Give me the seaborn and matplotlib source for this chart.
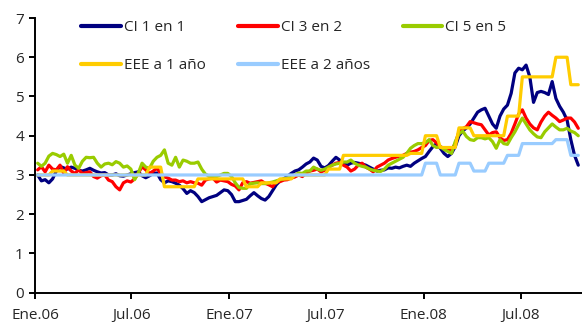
import numpy as np
import pandas as pd
import matplotlib
matplotlib.use("Agg")
import matplotlib.pyplot as plt
import matplotlib.dates as mdates
from matplotlib.lines import Line2D
import seaborn as sns

# Weekly observations, Jan 2006 - Oct 2008
fechas = pd.date_range("2006-01-06", periods=146, freq="7D")

ci_1_en_1 = [
    3.00, 2.85, 2.88, 2.80, 2.90, 3.10, 3.22, 3.18, 3.15, 3.20,
    3.17, 3.12, 3.10, 3.13, 3.17, 3.12, 3.08, 3.05, 3.06, 3.00,
    3.00, 3.03, 2.98, 2.97, 3.00, 3.03, 3.06, 3.08, 2.98, 2.93,
    2.98, 3.04, 3.05, 2.88, 2.80, 2.85, 2.83, 2.79, 2.74, 2.65,
    2.53, 2.60, 2.55, 2.45, 2.32, 2.37, 2.42, 2.45, 2.48, 2.55,
    2.62, 2.60, 2.50, 2.32, 2.32, 2.35, 2.38, 2.47, 2.55, 2.47,
    2.40, 2.36, 2.45, 2.60, 2.75, 2.85, 2.90, 2.97, 3.04, 3.10,
    3.13, 3.20, 3.28, 3.33, 3.43, 3.38, 3.22, 3.18, 3.24, 3.35,
    3.45, 3.38, 3.30, 3.25, 3.30, 3.32, 3.30, 3.28, 3.25, 3.20,
    3.15, 3.10, 3.12, 3.13, 3.18, 3.17, 3.20, 3.18, 3.22, 3.25,
    3.22, 3.30, 3.36, 3.42, 3.47, 3.60, 3.72, 3.80, 3.68, 3.55,
    3.47, 3.55, 3.72, 4.00, 4.12, 4.20, 4.30, 4.45, 4.60, 4.66,
    4.70, 4.50, 4.30, 4.19, 4.50, 4.68, 4.78, 5.08, 5.60, 5.72,
    5.68, 5.80, 5.50, 4.85, 5.10, 5.13, 5.10, 5.05, 5.38, 4.95,
    4.75, 4.60, 4.40, 3.90, 3.50, 3.25,
]

ci_3_en_2 = [
    3.13, 3.21, 3.08, 3.25, 3.15, 3.13, 3.25, 3.04, 3.21, 3.10,
    3.04, 3.13, 3.04, 3.06, 3.08, 2.96, 2.92, 2.98, 3.00, 2.87,
    2.83, 2.70, 2.62, 2.80, 2.85, 2.82, 2.90, 3.05, 3.21, 3.13,
    3.04, 3.10, 3.17, 3.04, 2.95, 2.92, 2.87, 2.87, 2.83, 2.85,
    2.80, 2.83, 2.80, 2.79, 2.74, 2.87, 2.90, 2.92, 2.82, 2.87,
    2.85, 2.83, 2.76, 2.72, 2.62, 2.80, 2.83, 2.79, 2.81, 2.83,
    2.85, 2.79, 2.75, 2.70, 2.83, 2.83, 2.87, 2.88, 2.92, 2.95,
    3.00, 2.96, 3.05, 3.10, 3.12, 3.15, 3.08, 3.12, 3.20, 3.25,
    3.30, 3.32, 3.25, 3.20, 3.10, 3.15, 3.25, 3.30, 3.20, 3.15,
    3.08, 3.20, 3.25, 3.30, 3.38, 3.42, 3.45, 3.48, 3.50, 3.55,
    3.58, 3.60, 3.64, 3.70, 3.75, 3.88, 3.90, 3.82, 3.72, 3.68,
    3.66, 3.64, 3.80, 4.10, 4.18, 4.23, 4.36, 4.33, 4.30, 4.28,
    4.15, 4.02, 4.08, 4.10, 3.95, 3.88, 3.90, 4.06, 4.30, 4.55,
    4.66, 4.45, 4.30, 4.20, 4.15, 4.35, 4.50, 4.60, 4.52, 4.45,
    4.36, 4.40, 4.45, 4.45, 4.35, 4.19,
]

ci_5_en_5 = [
    3.30, 3.22, 3.30, 3.48, 3.55, 3.52, 3.47, 3.53, 3.30, 3.50,
    3.25, 3.17, 3.35, 3.45, 3.44, 3.45, 3.30, 3.20, 3.28, 3.30,
    3.26, 3.34, 3.30, 3.20, 3.23, 3.15, 2.88, 3.05, 3.30, 3.20,
    3.17, 3.35, 3.45, 3.50, 3.64, 3.30, 3.25, 3.45, 3.20, 3.38,
    3.35, 3.30, 3.30, 3.33, 3.15, 3.02, 2.97, 2.97, 2.96, 3.00,
    3.04, 3.04, 2.96, 2.80, 2.68, 2.66, 2.66, 2.78, 2.79, 2.80,
    2.78, 2.78, 2.80, 2.82, 2.85, 2.88, 2.90, 2.92, 2.96, 3.00,
    3.05, 3.04, 3.10, 3.10, 3.20, 3.15, 3.12, 3.15, 3.20, 3.25,
    3.28, 3.30, 3.33, 3.33, 3.38, 3.30, 3.25, 3.22, 3.20, 3.15,
    3.12, 3.10, 3.09, 3.15, 3.25, 3.30, 3.35, 3.40, 3.45, 3.55,
    3.68, 3.75, 3.80, 3.80, 3.82, 3.90, 3.75, 3.70, 3.72, 3.65,
    3.60, 3.55, 3.85, 4.05, 4.12, 3.98, 3.90, 3.88, 3.95, 3.95,
    3.92, 3.95, 3.85, 3.68, 3.90, 3.80, 3.78, 3.95, 4.10, 4.28,
    4.45, 4.30, 4.15, 4.05, 3.97, 3.95, 4.10, 4.20, 4.30, 4.22,
    4.15, 4.15, 4.19, 4.12, 4.08, 4.00,
]

# Monthly survey expectations (Jan 2006 - Oct 2008)
eee_1_anio_mensual = [
    3.00, 3.10, 3.00, 3.00, 3.00, 3.00, 3.00, 3.20, 2.70, 2.70, 2.90, 2.90,
    2.90, 2.70, 2.80, 2.90, 3.00, 3.00, 3.15, 3.50, 3.50, 3.50, 3.50, 3.55,
    4.00, 3.70, 4.20, 4.00, 4.00, 4.50, 5.50, 5.50, 6.00, 5.30,
]
eee_2_anios_mensual = [
    3.00, 3.00, 3.00, 3.00, 3.00, 3.00, 3.00, 3.00, 3.00, 3.00, 3.00, 3.00,
    3.00, 3.00, 3.00, 3.00, 3.00, 3.00, 3.00, 3.00, 3.00, 3.00, 3.00, 3.00,
    3.30, 3.00, 3.30, 3.10, 3.30, 3.50, 3.80, 3.80, 3.90, 3.50,
]

series = ["CI 1 en 1", "CI 3 en 2", "CI 5 en 5", "EEE a 1 año", "EEE a 2 años"]
colores = ["#000080", "#ff0000", "#99cc00", "#ffcc00", "#99ccff"]

tick_fechas = ["2006-01-01", "2006-07-01", "2007-01-01", "2007-07-01", "2008-01-01", "2008-07-01"]
tick_etiquetas = ["Ene.06", "Jul.06", "Ene.07", "Jul.07", "Ene.08", "Jul.08"]

# Survey values hold for every week of their month
mes_idx = (fechas.year - 2006) * 12 + (fechas.month - 1)
eee_1 = np.asarray(eee_1_anio_mensual)[mes_idx]
eee_2 = np.asarray(eee_2_anios_mensual)[mes_idx]

ancho = pd.DataFrame({
    "fecha": fechas,
    series[0]: ci_1_en_1,
    series[1]: ci_3_en_2,
    series[2]: ci_5_en_5,
    series[3]: eee_1,
    series[4]: eee_2,
})
largo = ancho.melt(id_vars="fecha", var_name="serie", value_name="valor")

sns.set_theme(style="ticks")
plt.rcParams["font.family"] = ["Open Sans", "DejaVu Sans"]
plt.rcParams["font.size"] = 11

fig = plt.figure(figsize=(5.82, 3.24), dpi=100)
ax = fig.add_axes([35 / 582, (324 - 292.7) / 324, 1 - 35 / 582, (292.7 - 18) / 324])

sns.lineplot(data=largo, x="fecha", y="valor", hue="serie", hue_order=series,
             palette=colores, linewidth=2.3, legend=False, ax=ax)

ax.set_ylim(0, 7)
ax.set_yticks(range(0, 8))
ax.set_xlim(pd.Timestamp("2006-01-01"), pd.Timestamp("2008-10-24"))
ax.set_xticks([mdates.date2num(pd.Timestamp(d)) for d in tick_fechas])
ax.set_xticklabels(tick_etiquetas)
ax.set_xlabel("")
ax.set_ylabel("")

texto = "#262626"
for lado in ["top", "right"]:
    ax.spines[lado].set_visible(False)
for lado in ["left", "bottom"]:
    ax.spines[lado].set_color("black")
    ax.spines[lado].set_linewidth(1.4)
ax.tick_params(axis="both", direction="out", length=4, width=1.4, color="black",
               labelcolor=texto, labelsize=11)
ax.tick_params(axis="x", pad=7)
ax.tick_params(axis="y", pad=4)
ax.grid(False)

manejadores = [Line2D([0], [0], color=c, lw=3) for c in colores]
orden = [0, 3, 1, 4, 2]
fig.legend([manejadores[i] for i in orden], [series[i] for i in orden],
           ncol=3, loc="upper left", bbox_to_anchor=(81 / 582, 1 - 20 / 324),
           frameon=False, fontsize=11, handlelength=2.6, handletextpad=0.2,
           columnspacing=2.13, labelspacing=1.5, borderpad=0, borderaxespad=0,
           labelcolor=texto)

fig.savefig("out.png", dpi=100)
